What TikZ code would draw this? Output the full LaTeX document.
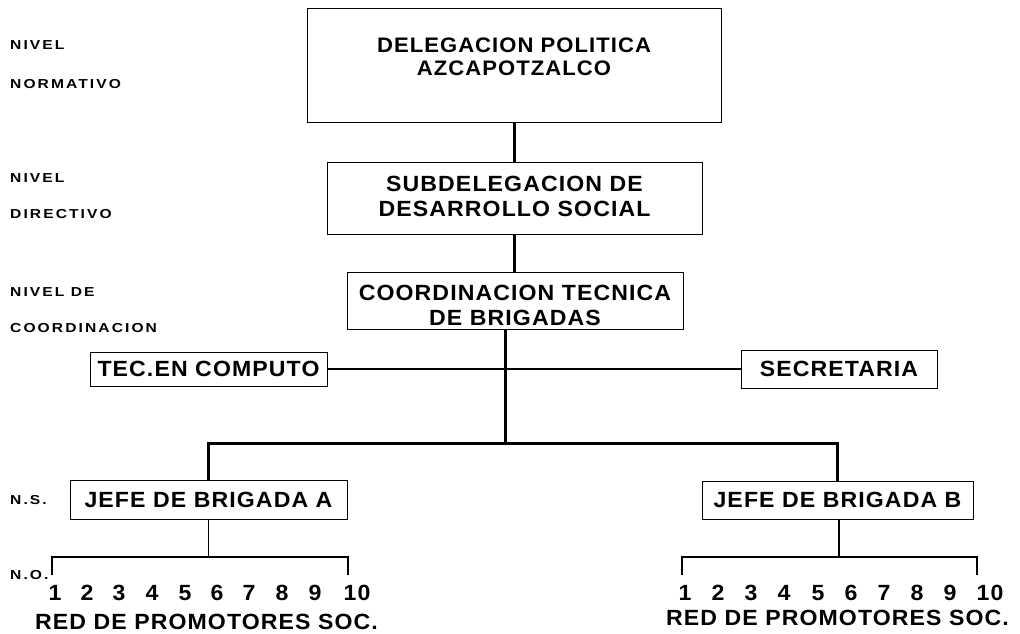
\documentclass[tikz,border=0pt]{standalone}
\usepackage{fontspec}
\newfontfamily\bx{Liberation Sans}[FakeStretch=1.05,LetterSpace=5]
\newfontfamily\sm{Liberation Sans}[FakeStretch=1.2,LetterSpace=16]
\begin{document}
\begin{tikzpicture}[x=1pt,y=-1pt,
  box/.style={draw,line width=0.9pt,inner sep=0pt},
  txt/.style={font=\bx\bfseries\fontsize{22}{25}\selectfont,align=center,inner sep=0pt},
  lvl/.style={font=\sm\bfseries\fontsize{13}{13}\selectfont,anchor=west,inner sep=0pt},
  trunk/.style={line width=3pt},
  link/.style={line width=1.8pt},
  thin/.style={line width=1.4pt}]
\useasboundingbox (0,0) rectangle (1020,634);
% level labels
\node[lvl] (l1) at (10,45) {NIVEL};
\node[lvl] (l2) at (10,84) {NORMATIVO};
\node[lvl] (l3) at (10,178) {NIVEL};
\node[lvl] (l4) at (10,214) {DIRECTIVO};
\node[lvl] (l5) at (10,292) {NIVEL DE};
\node[lvl] (l6) at (10,328) {COORDINACION};
\node[lvl] (l7) at (10,500) {N.S.};
\node[lvl] (l8) at (10,575) {N.O.};
% boxes
\node[box,anchor=north west,minimum width=414pt,minimum height=114pt] (d1) at (307,8) {};
\node[txt,font=\bx\bfseries\fontsize{21}{23}\selectfont] (d1t) at (514,57) {DELEGACION POLITICA\\AZCAPOTZALCO};
\node[box,minimum width=375pt,minimum height=72pt] (d2) at (514.5,198) {};
\node[txt] (d2t) at (514.5,196) {SUBDELEGACION DE\\DESARROLLO SOCIAL};
\node[box,minimum width=336pt,minimum height=57pt] (d3) at (515,301) {};
\node[txt] (d3t) at (515,305) {COORDINACION TECNICA\\DE BRIGADAS};
\node[box,txt,minimum width=237pt,minimum height=34pt] (tec) at (208.5,369) {TEC.EN COMPUTO};
\node[box,txt,minimum width=196pt,minimum height=38pt] (sec) at (839,369) {SECRETARIA};
\node[box,txt,minimum width=277pt,minimum height=39pt] (jA) at (208.5,499.5) {JEFE DE BRIGADA A};
\node[box,txt,minimum width=271pt,minimum height=38pt] (jB) at (837.5,500) {JEFE DE BRIGADA B};
% connectors
\draw[trunk] (d1.south) -- (d1.south |- d2.north);
\draw[trunk] (d2.south) -- (d2.south |- d3.north);
\coordinate (br) at (505,443);
\draw[trunk] (d3.south -| br) -- (br);
\draw[link] (tec.east) -- (tec.east -| sec.west);
\draw[trunk] (jA.north) -- (jA.north |- br) -- (jB.north |- br) -- (jB.north);
% brackets
\coordinate (bA) at (208.5,557);
\coordinate (tAl) at (52,575);
\coordinate (tAr) at (348,575);
\draw[thin] (jA.south) -- (bA);
\draw[link] (tAl) -- (tAl |- bA) -- (tAr |- bA) -- (tAr);
\coordinate (bB) at (839,557);
\coordinate (tBl) at (682,575);
\coordinate (tBr) at (977,575);
\draw[thin] (jB.south -| bB) -- (bB);
\draw[link] (tBl) -- (tBl |- bB) -- (tBr |- bB) -- (tBr);
% numbers
\foreach \n/\x in {1/55,2/87,3/119,4/152,5/185,6/217,7/249,8/282,9/315,10/357}
  \node[txt] (nA\n) at (\x,593) {\n};
\foreach \n/\x in {1/685,2/718,3/751,4/784,5/818,6/851,7/884,8/917,9/950,10/990}
  \node[txt] (nB\n) at (\x,593) {\n};
\node[txt] (rA) at (206.5,622) {RED DE PROMOTORES SOC.};
\node[txt] (rB) at (837.5,618) {RED DE PROMOTORES SOC.};
\end{tikzpicture}
\end{document}
